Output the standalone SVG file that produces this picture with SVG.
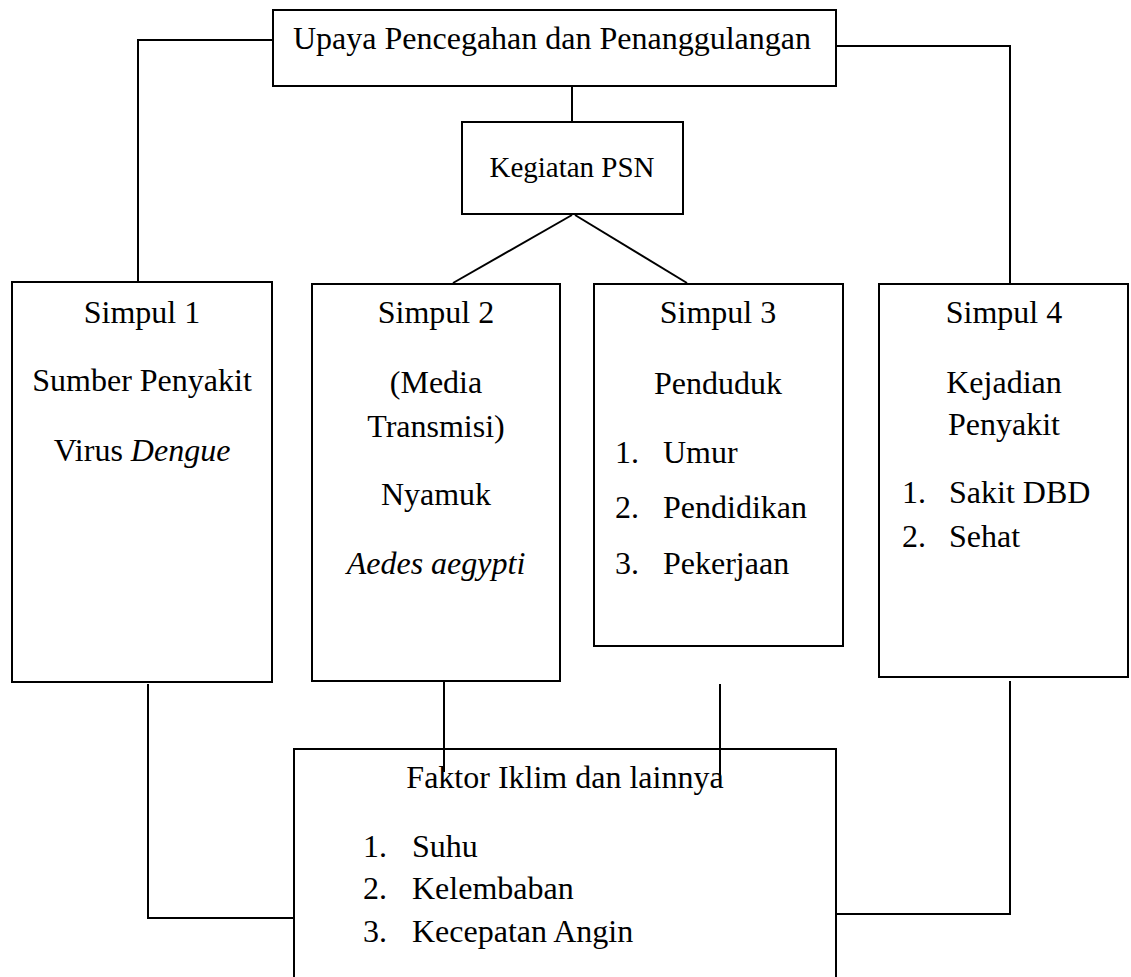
<svg xmlns="http://www.w3.org/2000/svg" width="1131" height="977" viewBox="0 0 1131 977">
<style>
.box{fill:#fff;stroke:#000;stroke-width:2}
.ln{fill:none;stroke:#000;stroke-width:2}
text{font-family:"Liberation Serif","Times New Roman",serif;font-size:32px;fill:#000}
.c{text-anchor:middle}
.i{font-style:italic}
</style>
<rect width="1131" height="977" fill="#fff"/>
<g id="connectors">
<polyline class="ln" points="273,40 138,40 138,282"/>
<polyline class="ln" points="836,46 1010,46 1010,288"/>
<line class="ln" x1="572" y1="86" x2="572" y2="122"/>
<line class="ln" x1="572" y1="215" x2="453" y2="283"/>
<line class="ln" x1="575" y1="215" x2="687" y2="283"/>
<polyline class="ln" points="148,684 148,918 294,918"/>
<polyline class="ln" points="1010,681 1010,914 836,914"/>
</g>
<g id="faktor">
<rect class="box" x="294" y="749" width="542" height="240"/>
<text class="c" x="565" y="788">Faktor Iklim dan lainnya</text>
<text x="363" y="857">1.</text><text x="412" y="857">Suhu</text>
<text x="363" y="899">2.</text><text x="412" y="899">Kelembaban</text>
<text x="363" y="942">3.</text><text x="412" y="942">Kecepatan Angin</text>
</g>
<g id="connectors-over">
<line class="ln" x1="444" y1="681" x2="444" y2="772"/>
<line class="ln" x1="720" y1="684" x2="720" y2="775"/>
</g>
<g id="upaya">
<rect class="box" x="273" y="10" width="563" height="76"/>
<text class="c" x="552" y="49">Upaya Pencegahan dan Penanggulangan</text>
</g>
<g id="kegiatan">
<rect class="box" x="462" y="122" width="221" height="92"/>
<text class="c" x="572" y="177" style="font-size:29px">Kegiatan PSN</text>
</g>
<g id="simpul1">
<rect class="box" x="12" y="282" width="260" height="400"/>
<text class="c" x="142" y="323">Simpul 1</text>
<text class="c" x="142" y="391">Sumber Penyakit</text>
<text class="c" x="142" y="461">Virus <tspan class="i">Dengue</tspan></text>
</g>
<g id="simpul2">
<rect class="box" x="312" y="284" width="248" height="397"/>
<text class="c" x="436" y="323">Simpul 2</text>
<text class="c" x="436" y="393">(Media</text>
<text class="c" x="436" y="437">Transmisi)</text>
<text class="c" x="436" y="505">Nyamuk</text>
<text class="c i" x="436" y="574">Aedes aegypti</text>
</g>
<g id="simpul3">
<rect class="box" x="594" y="284" width="249" height="362"/>
<text class="c" x="718" y="323">Simpul 3</text>
<text class="c" x="718" y="394">Penduduk</text>
<text x="615" y="463">1.</text><text x="663" y="463">Umur</text>
<text x="615" y="518">2.</text><text x="663" y="518">Pendidikan</text>
<text x="615" y="574">3.</text><text x="663" y="574">Pekerjaan</text>
</g>
<g id="simpul4">
<rect class="box" x="879" y="284" width="249" height="393"/>
<text class="c" x="1004" y="323">Simpul 4</text>
<text class="c" x="1004" y="393">Kejadian</text>
<text class="c" x="1004" y="435">Penyakit</text>
<text x="902" y="503">1.</text><text x="949" y="503">Sakit DBD</text>
<text x="902" y="547">2.</text><text x="949" y="547">Sehat</text>
</g>
</svg>
